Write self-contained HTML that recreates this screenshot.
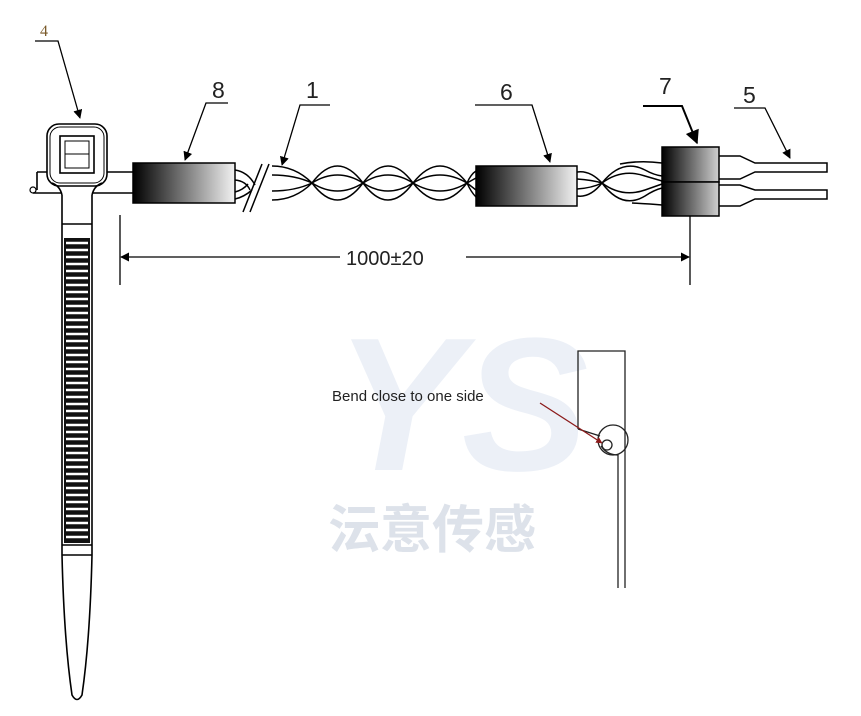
<!DOCTYPE html>
<html><head><meta charset="utf-8"><style>
html,body{margin:0;padding:0;background:#fff;width:861px;height:716px;overflow:hidden}
svg{display:block}
</style></head><body>
<svg width="861" height="716" viewBox="0 0 861 716" xmlns="http://www.w3.org/2000/svg">
<defs>
<linearGradient id="g" x1="0" x2="1" y1="0" y2="0"><stop offset="0" stop-color="#000"/><stop offset="1" stop-color="#f2f2f2"/></linearGradient>
<linearGradient id="g2" x1="0" x2="1" y1="0" y2="0"><stop offset="0" stop-color="#000"/><stop offset="1" stop-color="#d0d0d0"/></linearGradient>
<marker id="ah" viewBox="0 0 10 10" refX="9" refY="5" markerWidth="7" markerHeight="7" orient="auto"><path d="M0,0 L10,5 L0,10 z" fill="#000"/></marker>
<marker id="ar" viewBox="0 0 10 10" refX="9" refY="5" markerWidth="5" markerHeight="5" orient="auto"><path d="M0,0 L10,5 L0,10 z" fill="#8b1a1a"/></marker>
</defs>
<!-- watermark -->
<text x="335" y="470" font-family="Liberation Sans, sans-serif" font-weight="bold" font-style="italic" font-size="190" fill="#e9eef6" opacity="0.85">YS</text>
<text x="328" y="548" font-family="Liberation Sans, 'Noto Sans CJK SC', sans-serif" font-weight="bold" font-size="52" fill="#dde2ea">沄意传感</text>

<g fill="none" stroke="#000" stroke-width="1.6">
<!-- tie head -->
<rect x="47" y="124" width="60" height="62" rx="12"/>
<rect x="50" y="127" width="54" height="56" rx="10" stroke-width="1"/>
<rect x="60" y="136" width="34" height="37"/>
<rect x="65" y="141" width="24" height="27" stroke-width="1"/>
<line x1="65" y1="154" x2="89" y2="154" stroke-width="1"/>
<path d="M37 172 H47 M107 172 H133 M37 172 V190 M33 193 H62 M92 193 H133"/>
<circle cx="33" cy="190" r="3" stroke-width="1.2"/>
<path d="M52 183 Q60 186 62 195 M102 183 Q94 186 92 195"/>
<!-- strap -->
<path d="M62 195 V555 Q64 640 72 695 Q77 704 82 695 Q90 640 92 555 V195"/>
<line x1="62" y1="224" x2="92" y2="224"/>
<line x1="62" y1="555" x2="92" y2="555"/>
<line x1="62" y1="545" x2="92" y2="545"/>
</g>
<rect x="64" y="238" width="26" height="305" fill="#111"/>
<g stroke="#fff" stroke-width="2.5">
<path d="M66 243H88M66 250H88M66 257H88M66 264H88M66 271H88M66 278H88M66 285H88M66 292H88M66 299H88M66 306H88M66 313H88M66 320H88M66 327H88M66 334H88M66 341H88M66 348H88M66 355H88M66 362H88M66 369H88M66 376H88M66 383H88M66 390H88M66 397H88M66 404H88M66 411H88M66 418H88M66 425H88M66 432H88M66 439H88M66 446H88M66 453H88M66 460H88M66 467H88M66 474H88M66 481H88M66 488H88M66 495H88M66 502H88M66 509H88M66 516H88M66 523H88M66 530H88M66 537H88"/>
</g>

<!-- sleeve 8 -->
<rect x="133" y="163" width="102" height="40" fill="url(#g)" stroke="#000" stroke-width="1.5"/>
<g fill="none" stroke="#000" stroke-width="1.5">
<path d="M235 170 Q248 172 255 185 M235 180 Q246 181 250 190 M235 192 Q243 190 248 184 M235 199 Q244 197 252 190"/>
<path d="M243 212 L262 164 M250 212 L269 164"/>
<!-- twisted wires -->
<path d="M272 166 Q295 166 312 183 Q337.5 149 363 183 Q388 217 413 183 Q440 149 467 183"/>
<path d="M272 200 Q295 200 312 183 Q337.5 217 363 183 Q388 149 413 183 Q440 217 467 183"/>
<path d="M272 175 Q295 175 312 183 Q337.5 167 363 183 Q388 199 413 183 Q440 167 467 183"/>
<path d="M272 191 Q295 191 312 183 Q337.5 199 363 183 Q388 167 413 183 Q440 199 467 183"/>
<path d="M467 183 Q471 174 476 171 M467 183 Q471 192 476 197 M467 183 L476 178 M467 183 L476 190"/>
<!-- between 6 and 7 -->
<path d="M577 172 Q590 170 602 183 Q622 210 645 196 Q654 190 662 188"/>
<path d="M577 196 Q590 198 602 183 Q622 158 645 170 Q654 175 662 176"/>
<path d="M577 179 Q592 180 602 183 Q622 198 645 190 L662 184"/>
<path d="M577 189 Q592 188 602 183 Q622 168 645 176 L662 181"/>
<path d="M620 164 Q640 160 662 163 M632 203 Q650 204 662 205"/>
</g>
<!-- sleeve 6 -->
<rect x="476" y="166" width="101" height="40" fill="url(#g)" stroke="#000" stroke-width="1.5"/>
<!-- sleeve 7 -->
<rect x="662" y="147" width="57" height="35" fill="url(#g2)" stroke="#000" stroke-width="1.5"/>
<rect x="662" y="182" width="57" height="34" fill="url(#g2)" stroke="#000" stroke-width="1.5"/>
<g fill="none" stroke="#000" stroke-width="1.5">
<path d="M719 156 H740 L755 163 H827 V172 H755 L740 179 H719"/>
<path d="M719 185 H740 L755 190 H827 V199 H755 L740 206 H719"/>
<!-- dimension -->
<path d="M120 215 V285 M690 216 V285" stroke-width="1.3"/>
<line x1="340" y1="257" x2="121" y2="257" stroke-width="1.3" marker-end="url(#ah)"/>
<line x1="466" y1="257" x2="689" y2="257" stroke-width="1.3" marker-end="url(#ah)"/>
<!-- leaders -->
<path d="M35 41 H58 L80 118" stroke-width="1.3" marker-end="url(#ah)"/>
<path d="M228 103 H206 L185 160" stroke-width="1.3" marker-end="url(#ah)"/>
<path d="M330 105 H300 L282 165" stroke-width="1.3" marker-end="url(#ah)"/>
<path d="M475 105 H532 L550 162" stroke-width="1.3" marker-end="url(#ah)"/>
<path d="M643 106 H682 L697 143" stroke-width="2" marker-end="url(#ah)"/>
<path d="M734 108 H765 L790 158" stroke-width="1.3" marker-end="url(#ah)"/>
</g>
<g font-family="Liberation Sans, sans-serif" font-size="23" fill="#222">
<text x="212" y="98">8</text>
<text x="306" y="98">1</text>
<text x="500" y="100">6</text>
<text x="659" y="94">7</text>
<text x="743" y="103">5</text>
<text x="346" y="265" font-size="20">1000±20</text>
</g>
<text x="40" y="36" font-family="Liberation Serif, serif" font-size="16" fill="#7a5a2a">4</text>

<!-- bend figure -->
<g fill="none" stroke="#222" stroke-width="1.3">
<path d="M578 429 V351 H625 V588 M618 588 V455 Q607 455 601 446 M578 429 L600 436"/>
<circle cx="613" cy="440" r="15"/>
<circle cx="607" cy="445" r="5"/>
</g>
<line x1="540" y1="403" x2="602" y2="443" stroke="#8b1a1a" stroke-width="1.3" marker-end="url(#ar)"/>
<text x="332" y="401" font-family="Liberation Sans, sans-serif" font-size="15" fill="#222">Bend close to one side</text>
</svg>
</body></html>
